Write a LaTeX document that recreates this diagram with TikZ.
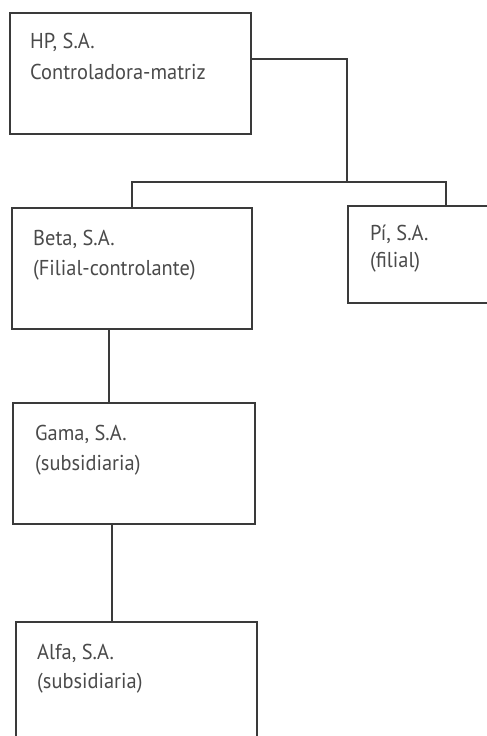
\documentclass[tikz,border=0pt]{standalone}
\usepackage{fontspec}
\setmainfont[FakeStretch=0.95]{PT Sans}
\definecolor{txt}{HTML}{4A4A4A}
\definecolor{ln}{HTML}{3A3A3A}
\begin{document}
\begin{tikzpicture}[x=1pt,y=-1pt,
  box/.style={draw=ln,line width=1.4pt,rectangle,inner sep=0pt,outer sep=0pt,anchor=north west},
  lbl/.style={anchor=base west,inner sep=0pt,text=txt,font=\fontsize{21.5}{26}\selectfont},
  conn/.style={draw=ln,line width=1.3pt}]
\clip (0,0) rectangle (487,736);
\fill[white] (0,0) rectangle (487,736);
% boxes
\node[box,minimum width=241pt,minimum height=121pt] (HP) at (10,13) {};
\node[box,minimum width=240pt,minimum height=121pt] (Beta) at (12,208) {};
\node[box,minimum width=196pt,minimum height=97pt] (Pi) at (348,206) {};
\node[box,minimum width=242pt,minimum height=121pt] (Gama) at (13,403) {};
\node[box,minimum width=241pt,minimum height=130pt] (Alfa) at (16,622) {};
% texts
\node[lbl] (t1a) at (30,48) {HP, S.A.};
\node[lbl] (t1b) at (30,79) {Controladora-matriz};
\node[lbl] (t2a) at (33,245) {Beta, S.A.};
\node[lbl] (t2b) at (33,275) {(Filial-controlante)};
\node[lbl] (t3a) at (370,240) {Pí, S.A.};
\node[lbl] (t3b) at (370,267) {(filial)};
\node[lbl] (t4a) at (35,440) {Gama, S.A.};
\node[lbl] (t4b) at (35,470) {(subsidiaria)};
\node[lbl] (t5a) at (37,659) {Alfa, S.A.};
\node[lbl] (t5b) at (37,688) {(subsidiaria)};
% connectors
\coordinate (bus) at (347,182);
\draw[conn] ([yshift=14.5pt]HP.east) -| (bus);
\draw[conn] (Beta.north) |- (bus) -| (Pi.north);
\draw[conn] ([xshift=-23pt]Beta.south) -- ([xshift=-23pt]Beta.south |- Gama.north);
\draw[conn] ([xshift=-22pt]Gama.south) -- ([xshift=-22pt]Gama.south |- Alfa.north);
\end{tikzpicture}
\end{document}
